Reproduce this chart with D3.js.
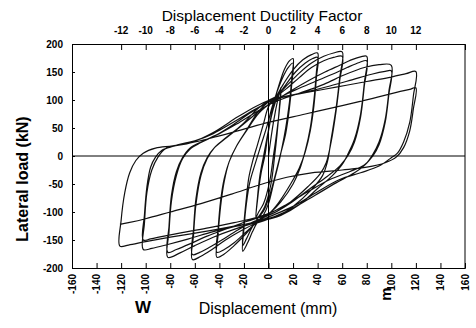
<!DOCTYPE html>
<html>
<head>
<meta charset="utf-8">
<script src="https://cdn.jsdelivr.net/npm/d3@7"></script>
<style>
  body { margin: 0; background: #fff; }
  svg { display: block; font-family: "Liberation Sans", Arial, sans-serif; }
</style>
</head>
<body>
<svg id="chart" width="476" height="328"></svg>
<script>
// tick values
const dispTicks = [-160, -140, -120, -100, -80, -60, -40, -20, 0, 20, 40, 60, 80, 100, 120, 140, 160];
const loadTicks = [-200, -150, -100, -50, 0, 50, 100, 150, 200];
const ductTicks = [-12, -10, -8, -6, -4, -2, 0, 2, 4, 6, 8, 10, 12];
const mmPerDuct = 10;

// hysteresis trace, [displacement mm, load kN], grouped by ductility level
const mu1 = [[0,0],[4,60],[8,105],[10,122],[9,90],[7,40],[5,0],[2,-50],[-3,-90],[-7,-105],[-10,-112],
  [-9,-80],[-6,-30],[-3,0],[0,45],[4,85],[8,110],[10,118],[9,85],[6,30],[4,0],[1,-45],[-4,-85],[-8,-100],[-10,-108]];
const mu2 = [[-9,-75],[-7,-35],[-4,0],[-1,35],[2,70],[5,100],[9,130],[13,155],[17,170],[20,174],
  [19,140],[17,95],[14,50],[11,15],[8,-15],[4,-50],[0,-85],[-4,-105],[-9,-118],[-13,-135],[-17,-155],[-21,-170],
  [-20,-130],[-18,-85],[-15,-45],[-11,-15],[-6,20],[-1,55],[3,88],[7,115],[12,142],[16,158],[20,166],
  [19,130],[17,85],[14,40],[10,5],[6,-30],[1,-70],[-4,-98],[-9,-112],[-14,-130],[-18,-148],[-21,-160]];
const mu4 = [[-20,-120],[-18,-75],[-16,-38],[-13,-10],[-9,20],[-4,58],[0,88],[5,102],[12,128],[20,154],[28,172],[35,181],[40,184],
  [39,150],[37,100],[34,50],[30,10],[26,-20],[20,-50],[10,-82],[2,-100],[-8,-114],[-18,-138],[-28,-160],[-36,-175],[-42,-181],
  [-41,-140],[-39,-90],[-36,-45],[-32,-10],[-26,18],[-18,45],[-8,76],[0,92],[6,104],[14,127],[22,150],[30,166],[36,174],[40,176],
  [39,140],[37,90],[34,45],[30,8],[25,-22],[18,-50],[8,-84],[0,-104],[-8,-116],[-18,-135],[-28,-155],[-36,-167],[-42,-172]];
const mu6 = [[-41,-130],[-39,-80],[-36,-40],[-32,-10],[-26,18],[-18,46],[-8,80],[0,97],[6,106],[15,126],[25,148],[35,166],[45,178],[53,184],[60,186],
  [58,140],[55,85],[51,30],[48,-10],[44,-35],[35,-60],[20,-90],[8,-107],[0,-113],[-10,-120],[-22,-133],[-35,-150],[-46,-167],[-55,-179],[-62,-185],
  [-61,-140],[-59,-85],[-55,-35],[-50,-5],[-44,15],[-35,32],[-22,55],[-10,82],[0,99],[6,106],[15,121],[25,140],[35,158],[45,170],[53,176],[60,178],
  [58,135],[55,80],[51,25],[47,-12],[42,-32],[32,-55],[18,-82],[6,-100],[-2,-108],[-12,-117],[-25,-132],[-38,-150],[-48,-163],[-56,-172],[-62,-176]];
const mu8 = [[-61,-130],[-59,-75],[-55,-30],[-50,-3],[-44,15],[-34,33],[-22,54],[-10,76],[0,91],[6,99],[18,116],[32,134],[46,150],[58,162],[68,172],[75,177],[80,178],
  [78,130],[75,75],[70,30],[65,5],[60,-15],[52,-35],[40,-58],[25,-87],[10,-106],[0,-113],[-12,-120],[-28,-131],[-45,-145],[-60,-160],[-72,-173],[-82,-181],
  [-81,-135],[-79,-80],[-75,-35],[-70,-5],[-64,12],[-55,24],[-42,38],[-28,57],[-14,78],[0,96],[8,104],[22,118],[38,133],[52,146],[64,158],[74,167],[80,170],
  [78,125],[75,70],[70,25],[65,2],[58,-18],[48,-36],[34,-58],[18,-84],[5,-101],[-5,-108],[-18,-117],[-34,-130],[-50,-143],[-64,-157],[-75,-167],[-82,-172]];
const mu10 = [[-81,-125],[-79,-70],[-75,-28],[-70,-3],[-64,14],[-54,26],[-40,40],[-26,57],[-12,76],[0,91],[8,99],[25,112],[45,128],[62,145],[78,158],[90,163],[100,162],
  [98,115],[95,65],[90,25],[85,3],[79,-15],[70,-30],[55,-48],[38,-70],[20,-93],[5,-108],[-8,-116],[-25,-125],[-45,-135],[-65,-148],[-82,-158],[-95,-165],[-102,-167],
  [-101,-120],[-99,-65],[-95,-25],[-90,-2],[-84,13],[-74,20],[-60,27],[-45,40],[-28,61],[-12,82],[0,96],[10,104],[30,114],[50,125],[68,136],[84,146],[95,151],[100,152],
  [98,110],[95,60],[90,20],[85,0],[78,-16],[66,-28],[50,-42],[32,-64],[15,-86],[2,-101],[-10,-110],[-28,-119],[-48,-128],[-68,-136],[-85,-143],[-96,-148],[-102,-150]];
const mu12 = [[-101,-105],[-99,-55],[-96,-20],[-92,-2],[-87,10],[-78,17],[-63,24],[-45,42],[-25,70],[-10,89],[0,99],[8,104],[30,113],[55,123],[80,133],[100,141],[112,147],[120,151],
  [118,108],[115,60],[110,25],[105,5],[100,-3],[90,-18],[75,-30],[58,-42],[39,-65],[20,-90],[1,-108],[-9,-117],[-30,-126],[-55,-136],[-80,-145],[-100,-153],[-114,-159],[-121,-161],
  [-120,-115],[-117,-65],[-113,-30],[-108,-8],[-102,5],[-92,14],[-78,18],[-60,25],[-40,36],[-20,48],[0,60],[30,75],[60,90],[85,103],[105,114],[115,119],[120,122],
  [118,85],[115,45],[110,15],[104,-2],[95,-12],[80,-20],[60,-25],[35,-30],[15,-38],[-5,-50],[-30,-68],[-55,-85],[-80,-100],[-100,-112],[-114,-119],[-121,-122]];

const trace = [].concat(mu1, mu2, mu4, mu6, mu8, mu10, mu12);

const svg = d3.select('#chart');
const plotL = 72, plotR = 465, plotT = 44, plotB = 268;

const x = d3.scaleLinear().domain([-160, 160]).range([plotL, plotR]);
const y = d3.scaleLinear().domain([-200, 200]).range([plotB, plotT]);

// hysteresis loops
const line = d3.line()
  .x(d => x(d[0]))
  .y(d => y(d[1]))
  .curve(d3.curveCatmullRom.alpha(0.5));

svg.append('path')
  .datum(trace)
  .attr('d', line)
  .attr('fill', 'none')
  .attr('stroke', '#111')
  .attr('stroke-width', 1.2)
  .attr('stroke-linejoin', 'round');

// zero lines
svg.append('line')
  .attr('x1', plotL).attr('x2', plotR)
  .attr('y1', y(0)).attr('y2', y(0))
  .attr('stroke', '#000').attr('stroke-width', 1);
svg.append('line')
  .attr('x1', x(0)).attr('x2', x(0))
  .attr('y1', plotT).attr('y2', plotB)
  .attr('stroke', '#000').attr('stroke-width', 1);

// axes, ticks pointing inward
const fmt = d => String(d);
const bottomAxis = d3.axisBottom(x).tickValues(dispTicks).tickSize(-5).tickFormat('');
const leftAxis = d3.axisLeft(y).tickValues(loadTicks).tickSize(-3).tickFormat('');
const topAxis = d3.axisTop(x).tickValues(ductTicks.map(d => d * mmPerDuct)).tickSize(-6).tickFormat('');

const gB = svg.append('g').attr('transform', `translate(0,${plotB})`).call(bottomAxis);
const gL = svg.append('g').attr('transform', `translate(${plotL},0)`).call(leftAxis);
const gT = svg.append('g').attr('transform', `translate(0,${plotT})`).call(topAxis);
svg.append('line')
  .attr('x1', plotR).attr('x2', plotR).attr('y1', plotT).attr('y2', plotB)
  .attr('stroke', '#000');
[gB, gL, gT].forEach(g => {
  g.select('.domain').attr('stroke', '#000');
  g.selectAll('.tick line').attr('stroke', '#000');
});

// tick labels
svg.append('g').selectAll('text')
  .data(loadTicks).join('text')
  .attr('x', 63).attr('y', d => y(d)).attr('dy', '0.35em')
  .attr('text-anchor', 'end')
  .attr('font-size', 10).attr('font-weight', 'bold')
  .text(fmt);

svg.append('g').selectAll('text')
  .data(ductTicks).join('text')
  .attr('x', d => x(d * mmPerDuct)).attr('y', 34)
  .attr('text-anchor', 'middle')
  .attr('font-size', 10).attr('font-weight', 'bold')
  .text(fmt);

svg.append('g').selectAll('text')
  .data(dispTicks).join('text')
  .attr('transform', d => `translate(${x(d)},274) rotate(-90)`)
  .attr('dy', '0.35em')
  .attr('text-anchor', 'end')
  .attr('font-size', 10).attr('font-weight', 'bold')
  .text(fmt);

// titles
svg.append('text')
  .attr('x', 262).attr('y', 21)
  .attr('text-anchor', 'middle')
  .attr('font-size', 15.5)
  .text('Displacement Ductility Factor');

svg.append('text')
  .attr('x', 268).attr('y', 314)
  .attr('text-anchor', 'middle')
  .attr('font-size', 16)
  .text('Displacement (mm)');

svg.append('text')
  .attr('transform', 'translate(28,179) rotate(-90)')
  .attr('text-anchor', 'middle')
  .attr('font-size', 16).attr('font-weight', 'bold')
  .text('Lateral load (kN)');

svg.append('text')
  .attr('x', 143).attr('y', 313)
  .attr('text-anchor', 'middle')
  .attr('font-size', 17).attr('font-weight', 'bold')
  .text('W');

svg.append('text')
  .attr('transform', 'translate(391,294) rotate(-90)')
  .attr('text-anchor', 'middle')
  .attr('font-size', 15).attr('font-weight', 'bold')
  .text('m');
</script>
</body>
</html>
